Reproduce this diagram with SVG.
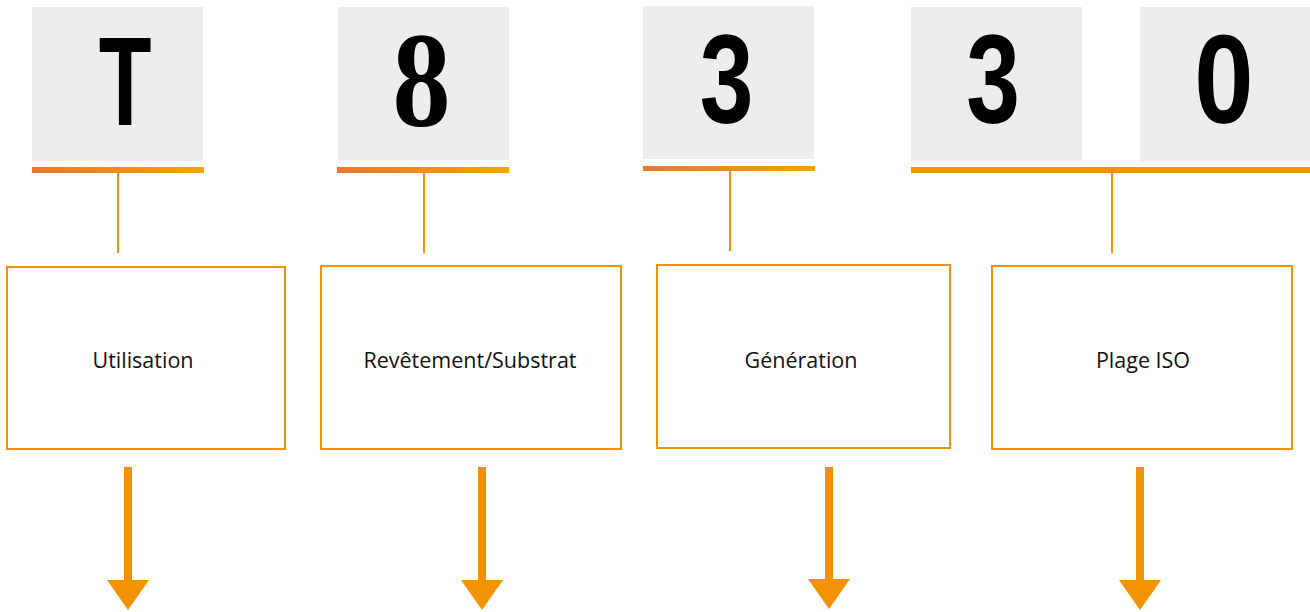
<svg xmlns="http://www.w3.org/2000/svg" width="1310" height="612" viewBox="0 0 1310 612">
  <defs>
    <linearGradient id="barGrad" x1="0" y1="0" x2="1" y2="0">
      <stop offset="0" stop-color="#EE7630"/>
      <stop offset="1" stop-color="#F6A300"/>
    </linearGradient>
    <marker id="arrowHead" viewBox="0 -21 30 42" refX="0" refY="0" markerWidth="30" markerHeight="42" markerUnits="userSpaceOnUse" orient="auto">
      <path d="M0,-21 L30,0 L0,21 Z" fill="#F39200"/>
    </marker>
    <style>
      .tile { fill: #EDEDED; }
      .bar { fill: url(#barGrad); }
      .barSolid { fill: #F39200; }
      .big { font-family: "Liberation Sans", Arial, sans-serif; font-weight: bold; font-size: 127px; fill: #000; text-anchor: middle; }
      .bigSerif { font-family: "Liberation Serif", "Times New Roman", serif; font-weight: bold; font-size: 135px; fill: #000; text-anchor: middle; }
      .box { fill: #FFFFFF; stroke: #F39200; stroke-width: 2; }
      .label { font-family: "Open Sans", "Noto Sans", sans-serif; font-size: 21.5px; fill: #111; text-anchor: middle; }
      .stem { stroke: #F39200; stroke-width: 2; fill: none; }
      .shaft { stroke: #F39200; stroke-width: 8; fill: none; }
    </style>
  </defs>

  <g id="code-T">
    <rect class="tile" x="32" y="7" width="171" height="154"/>
    <rect class="bar" x="32" y="167" width="172" height="6"/>
    <text class="big" transform="translate(125,125) scale(0.68,1)">T</text>
  </g>
  <g id="code-8">
    <rect class="tile" x="338" y="7" width="171" height="153"/>
    <rect class="bar" x="337" y="167" width="172" height="6"/>
    <text class="bigSerif" transform="translate(421.5,126) scale(0.86,1)">8</text>
  </g>
  <g id="code-3a">
    <rect class="tile" x="643" y="6" width="171" height="153"/>
    <rect class="bar" x="643" y="166" width="172" height="5"/>
    <text class="big" transform="translate(726.5,123) scale(0.76,1)">3</text>
  </g>
  <g id="code-30">
    <rect class="tile" x="911" y="7" width="171" height="154"/>
    <rect class="tile" x="1140" y="7" width="170" height="154"/>
    <rect class="barSolid" x="911" y="167" width="399" height="6"/>
    <text class="big" transform="translate(993,123) scale(0.76,1)">3</text>
    <text class="big" transform="translate(1224,123) scale(0.84,1)">0</text>
  </g>

  <g id="box-utilisation">
    <rect class="box" x="7" y="267" width="278" height="182"/>
    <text class="label" x="143" y="368">Utilisation</text>
  </g>
  <g id="box-revetement">
    <rect class="box" x="321" y="266" width="300" height="183"/>
    <text class="label" x="470" y="368">Revêtement/Substrat</text>
  </g>
  <g id="box-generation">
    <rect class="box" x="657" y="265" width="293" height="183"/>
    <text class="label" x="801" y="368">Génération</text>
  </g>
  <g id="box-plage">
    <rect class="box" x="992" y="266" width="300" height="183"/>
    <text class="label" x="1143" y="368">Plage ISO</text>
  </g>

  <g id="connectors">
    <line class="stem" x1="118" y1="173" x2="118" y2="253"/>
    <line class="stem" x1="424" y1="173" x2="424" y2="253"/>
    <line class="stem" x1="730" y1="171" x2="730" y2="251"/>
    <line class="stem" x1="1112" y1="173" x2="1112" y2="253"/>
    <line class="shaft" x1="128" y1="467" x2="128" y2="580" marker-end="url(#arrowHead)"/>
    <line class="shaft" x1="482" y1="467" x2="482" y2="580" marker-end="url(#arrowHead)"/>
    <line class="shaft" x1="829" y1="467" x2="829" y2="579" marker-end="url(#arrowHead)"/>
    <line class="shaft" x1="1140" y1="467" x2="1140" y2="580" marker-end="url(#arrowHead)"/>
  </g>
</svg>
